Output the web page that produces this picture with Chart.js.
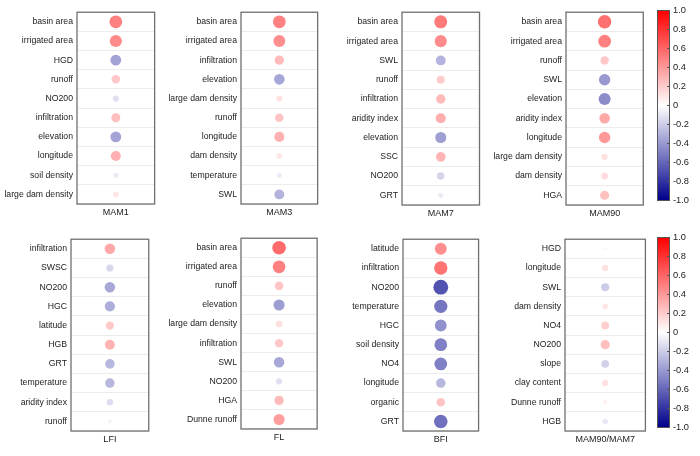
<!DOCTYPE html>
<html>
<head>
<meta charset="utf-8">
<script src="https://cdn.jsdelivr.net/npm/chart.js@4.4.0/dist/chart.umd.min.js"></script>
<style>
  body { margin: 0; background: #fff; width: 700px; height: 456px; position: relative; overflow: hidden;
         font-family: "Liberation Sans", Arial, sans-serif; }
  .panel { position: absolute; }
  .cbar { position: absolute; box-sizing: border-box; border: 1px solid #555;
          background: linear-gradient(to bottom, rgb(255,0,0), #ffffff 50%, rgb(0,0,140)); }
  .cbl { position: absolute; font-size: 9.3px; color: #222; transform: translateY(-50%); line-height: 1; }
  .cbt { position: absolute; width: 2px; height: 1px; background: #555; }
</style>
</head>
<body>
<script>
// variables and correlation values per panel (top to bottom)
const mam1Vars = ['basin area', 'irrigated area', 'HGD', 'runoff', 'NO200', 'infiltration', 'elevation', 'longitude', 'soil density', 'large dam density'];
const mam1Vals = [0.5, 0.46, -0.36, 0.22, -0.12, 0.25, -0.36, 0.31, -0.08, 0.1];

const mam3Vars = ['basin area', 'irrigated area', 'infiltration', 'elevation', 'large dam density', 'runoff', 'longitude', 'dam density', 'temperature', 'SWL'];
const mam3Vals = [0.5, 0.44, 0.27, -0.35, 0.11, 0.23, 0.31, 0.1, -0.08, -0.3];

const mam7Vars = ['basin area', 'irrigated area', 'SWL', 'runoff', 'infiltration', 'aridity index', 'elevation', 'SSC', 'NO200', 'GRT'];
const mam7Vals = [0.52, 0.45, -0.3, 0.2, 0.27, 0.32, -0.38, 0.29, -0.17, -0.08];

const mam90Vars = ['basin area', 'irrigated area', 'runoff', 'SWL', 'elevation', 'aridity index', 'longitude', 'large dam density', 'dam density', 'HGA'];
const mam90Vals = [0.56, 0.5, 0.22, -0.4, -0.45, 0.34, 0.4, 0.12, 0.14, 0.25];

const lfiVars = ['infiltration', 'SWSC', 'NO200', 'HGC', 'latitude', 'HGB', 'GRT', 'temperature', 'aridity index', 'runoff'];
const lfiVals = [0.34, -0.16, -0.34, -0.32, 0.21, 0.3, -0.28, -0.28, -0.13, -0.05];

const flVars = ['basin area', 'irrigated area', 'runoff', 'elevation', 'large dam density', 'infiltration', 'SWL', 'NO200', 'HGA', 'Dunne runoff'];
const flVals = [0.58, 0.5, 0.23, -0.38, 0.13, 0.22, -0.34, -0.12, 0.27, 0.38];

const bfiVars = ['latitude', 'infiltration', 'NO200', 'temperature', 'HGC', 'soil density', 'NO4', 'longitude', 'organic', 'GRT'];
const bfiVals = [0.44, 0.55, -0.68, -0.54, -0.43, -0.5, -0.5, -0.28, 0.23, -0.56];

const ratioVars = ['HGD', 'longitude', 'SWL', 'dam density', 'NO4', 'NO200', 'slope', 'clay content', 'Dunne runoff', 'HGB'];
const ratioVals = [-0.03, 0.12, -0.2, 0.1, 0.19, 0.26, -0.18, 0.12, 0.06, -0.09];

const cbarTicks = ['1.0', '0.8', '0.6', '0.4', '0.2', '0', '-0.2', '-0.4', '-0.6', '-0.8', '-1.0'];

const panels = [
  { title: 'MAM1', vars: mam1Vars, vals: mam1Vals, box: [77, 5, 159, 204] },
  { title: 'MAM3', vars: mam3Vars, vals: mam3Vals, box: [241, 5, 322, 204] },
  { title: 'MAM7', vars: mam7Vars, vals: mam7Vals, box: [402, 5, 484, 205] },
  { title: 'MAM90', vars: mam90Vars, vals: mam90Vals, box: [566, 5, 648, 205] },
  { title: 'LFI', vars: lfiVars, vals: lfiVals, box: [71, 232, 152, 431] },
  { title: 'FL', vars: flVars, vals: flVals, box: [241, 231, 322, 429] },
  { title: 'BFI', vars: bfiVars, vals: bfiVals, box: [403, 232, 484, 431] },
  { title: 'MAM90/MAM7', vars: ratioVars, vals: ratioVals, box: [565, 232, 648, 431] }
];

// white -> red for positive, white -> navy for negative
function colorFor(v) {
  const a = Math.min(Math.abs(v), 1);
  if (v >= 0) {
    const g = Math.round(255 * (1 - a));
    return 'rgb(255,' + g + ',' + g + ')';
  }
  const c = Math.round(255 * (1 - a));
  const b = Math.round(255 - 115 * a);
  return 'rgb(' + c + ',' + c + ',' + b + ')';
}

// circle area follows |r|
const radiusFor = v => 9 * Math.sqrt(Math.abs(v));

const boxPlugin = {
  id: 'box',
  afterDraw(chart) {
    const a = chart.chartArea, c = chart.ctx;
    c.save();
    c.strokeStyle = '#707070';
    c.lineWidth = 1.3;
    c.strokeRect(a.left, a.top, a.right - a.left, a.bottom - a.top);
    c.restore();
  }
};

const fontFamily = '"Liberation Sans", Arial, sans-serif';

panels.forEach(p => {
  const [L, T, R, B] = p.box;
  const wrap = document.createElement('div');
  wrap.className = 'panel';
  wrap.style.left = (L - 82) + 'px';
  wrap.style.top = (T - 2) + 'px';
  wrap.style.width = (R - L + 84) + 'px';
  wrap.style.height = (B - T + 24) + 'px';
  const cv = document.createElement('canvas');
  wrap.appendChild(cv);
  document.body.appendChild(wrap);

  new Chart(cv, {
    type: 'scatter',
    data: {
      datasets: [{
        data: p.vars.map(name => ({ x: 0.5, y: name })),
        pointRadius: ctx => radiusFor(p.vals[ctx.dataIndex]),
        pointHoverRadius: ctx => radiusFor(p.vals[ctx.dataIndex]),
        pointBackgroundColor: ctx => colorFor(p.vals[ctx.dataIndex]),
        pointBorderWidth: 0
      }]
    },
    options: {
      responsive: true,
      maintainAspectRatio: false,
      animation: false,
      events: [],
      layout: { padding: { left: 2, top: 2, right: 2, bottom: 0 } },
      plugins: { legend: { display: false }, tooltip: { enabled: false } },
      scales: {
        x: {
          type: 'linear', min: 0, max: 1,
          ticks: { display: false },
          grid: { display: false },
          border: { display: false },
          title: {
            display: true, text: p.title, color: '#222',
            font: { size: 9, family: fontFamily },
            padding: { top: 0, bottom: 7.6 }
          },
          afterFit: s => { s.height = 22; }
        },
        y: {
          type: 'category', labels: p.vars, offset: true,
          grid: { offset: true, color: '#ececec', lineWidth: 1, drawTicks: false },
          border: { display: false },
          ticks: { color: '#222', font: { size: 8.7, family: fontFamily }, padding: 4, autoSkip: false },
          afterFit: s => { s.width = 80; }
        }
      }
    },
    plugins: [boxPlugin]
  });
});

// colour bars with tick labels
[[10, 191], [237, 191]].forEach(([top, h]) => {
  const bar = document.createElement('div');
  bar.className = 'cbar';
  bar.style.left = '657px';
  bar.style.top = top + 'px';
  bar.style.width = '13px';
  bar.style.height = h + 'px';
  document.body.appendChild(bar);
  cbarTicks.forEach((t, i) => {
    const y = top + i * (h - 1) / (cbarTicks.length - 1);
    const lab = document.createElement('div');
    lab.className = 'cbl';
    lab.style.left = '673px';
    lab.style.top = (y + 0.5) + 'px';
    lab.textContent = t;
    document.body.appendChild(lab);
    const tk = document.createElement('div');
    tk.className = 'cbt';
    tk.style.left = '667px';
    tk.style.top = Math.round(y) + 'px';
    document.body.appendChild(tk);
  });
});
</script>
</body>
</html>
